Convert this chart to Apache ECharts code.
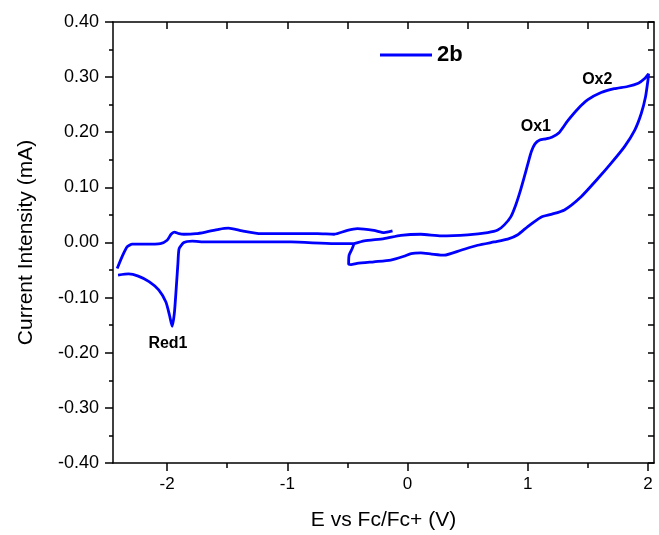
<!DOCTYPE html>
<html>
<head>
<meta charset="utf-8">
<script src="https://cdn.jsdelivr.net/npm/echarts@6/dist/echarts.min.js"></script>
<style>
html,body{margin:0;padding:0;background:#fff;}
#chart{width:659px;height:535px;}
</style>
</head>
<body>
<div id="chart"></div>
<script>
// Segment A: anodic loop, return, cathodic sweep to the left end (E in V, I in mA)
const potentialA = [-0.445, -0.36, -0.195, -0.056, 0.11, 0.28, 0.5, 0.667, 0.75, 0.805, 0.86, 0.90, 0.94, 0.97, 1.0, 1.03, 1.06, 1.10, 1.15, 1.20, 1.26, 1.33, 1.42, 1.50, 1.61, 1.72, 1.83, 1.92, 1.97, 2.005,
  2.0, 1.98, 1.944, 1.89, 1.805, 1.694, 1.583, 1.444, 1.305, 1.194, 1.11, 1.0, 0.917, 0.833, 0.72, 0.583, 0.444, 0.305, 0.20, 0.11, 0.03, -0.03, -0.14, -0.28, -0.42, -0.47, -0.49, -0.486, -0.46,
  -0.445, -0.61, -0.97, -1.39, -1.68, -1.79, -1.86, -1.90, -1.91, -1.925, -1.94, -1.958, -1.98, -2.01, -2.07, -2.15, -2.24, -2.32, -2.408];
const currentA = [-0.002, 0.003, 0.007, 0.013, 0.015, 0.012, 0.014, 0.018, 0.0225, 0.032, 0.047, 0.068, 0.095, 0.118, 0.142, 0.165, 0.179, 0.186, 0.188, 0.191, 0.199, 0.220, 0.243, 0.259, 0.272, 0.279, 0.283, 0.289, 0.297, 0.306,
  0.295, 0.265, 0.234, 0.204, 0.174, 0.144, 0.116, 0.083, 0.059, 0.051, 0.046, 0.029, 0.014, 0.006, 0.001, -0.005, -0.014, -0.023, -0.021, -0.019, -0.020, -0.025, -0.032, -0.035, -0.038, -0.040, -0.039, -0.023, -0.011,
  -0.002, -0.002, 0.001, 0.001, 0.001, 0.0025, 0.0, -0.011, -0.038, -0.086, -0.129, -0.152, -0.132, -0.108, -0.086, -0.071, -0.061, -0.057, -0.059];
// Segment B: return sweep from the left end
const potentialB = [-2.415, -2.375, -2.333, -2.29, -2.18, -2.056, -2.0, -1.967, -1.94, -1.90, -1.86, -1.76, -1.68, -1.57, -1.49, -1.375, -1.22, -0.97, -0.75, -0.61, -0.50, -0.417, -0.28, -0.195, -0.125];
const currentB = [-0.047, -0.026, -0.008, -0.003, -0.003, -0.002, 0.004, 0.015, 0.019, 0.016, 0.015, 0.016, 0.019, 0.024, 0.026, 0.021, 0.016, 0.016, 0.016, 0.015, 0.022, 0.025, 0.022, 0.018, 0.021];

const seriesName = '2b';
const xMajorTicks = [-2, -1, 0, 1, 2];
const xMinorTicks = [-1.5, -0.5, 0.5, 1.5];
const yMajorTicks = [-0.4, -0.3, -0.2, -0.1, 0, 0.1, 0.2, 0.3, 0.4];
const yMinorTicks = [-0.35, -0.25, -0.15, -0.05, 0.05, 0.15, 0.25, 0.35];
const annotationNames = ['Red1', 'Ox1', 'Ox2'];
const annotationE = [-1.993, 1.067, 1.578];
const annotationI = [-0.184, 0.211, 0.295];

const FONT = '"Liberation Sans", Arial, sans-serif';
const BLACK = '#000';
const BLUE = '#0000ff';

const dataA = potentialA.map((e, i) => [e, currentA[i]]);
const dataB = potentialB.map((e, i) => [e, currentB[i]]);

const chart = echarts.init(document.getElementById('chart'), null, {renderer: 'canvas'});
const axisLine = {show: true, onZero: false, lineStyle: {color: BLACK, width: 1.5}};
const noLine = {show: false, onZero: false};
const xCommon = {type: 'value', min: -2.45, max: 2.05, splitLine: {show: false}, gridIndex: 0};
const yCommon = {type: 'value', min: -0.4, max: 0.4, splitLine: {show: false}, gridIndex: 0};

chart.setOption({
  animation: false,
  backgroundColor: '#fff',
  grid: {left: 113, right: 5, top: 22, bottom: 72, containLabel: false, outerBoundsMode: 'none'},
  legend: {
    data: [{name: seriesName, icon: 'rect'}], left: 380, top: 42, padding: 0,
    itemWidth: 52, itemHeight: 3, itemGap: 5,
    itemStyle: {color: BLUE, borderWidth: 0},
    textStyle: {fontFamily: FONT, fontSize: 22, fontWeight: 'bold', color: BLACK, lineHeight: 26}
  },
  xAxis: [
    Object.assign({}, xCommon, {
      position: 'bottom', axisLine: axisLine,
      axisTick: {show: true, inside: false, length: 8, customValues: xMajorTicks, lineStyle: {color: BLACK, width: 1.5}},
      axisLabel: {show: true, customValues: xMajorTicks, margin: 13, fontFamily: FONT, fontSize: 17, color: BLACK,
        formatter: v => String(Math.round(v))},
      name: 'E vs Fc/Fc+ (V)', nameLocation: 'middle', nameGap: 47,
      nameTextStyle: {fontFamily: FONT, fontSize: 21, color: BLACK}
    }),
    Object.assign({}, xCommon, {
      position: 'bottom', axisLine: noLine,
      axisTick: {show: true, inside: false, length: 5, customValues: xMinorTicks, lineStyle: {color: BLACK, width: 1.5}},
      axisLabel: {show: false}
    }),
    Object.assign({}, xCommon, {
      position: 'top', axisLine: axisLine,
      axisTick: {show: true, inside: true, length: 7, customValues: xMajorTicks.concat(xMinorTicks), lineStyle: {color: BLACK, width: 1.5}},
      axisLabel: {show: false}
    })
  ],
  yAxis: [
    Object.assign({}, yCommon, {
      position: 'left', axisLine: axisLine,
      axisTick: {show: true, inside: false, length: 8, customValues: yMajorTicks, lineStyle: {color: BLACK, width: 1.5}},
      axisLabel: {show: true, customValues: yMajorTicks, margin: 14, fontFamily: FONT, fontSize: 18, color: BLACK,
        formatter: v => (Math.abs(v) < 1e-9 ? 0 : v).toFixed(2)},
      name: 'Current Intensity (mA)', nameLocation: 'middle', nameGap: 76,
      nameTextStyle: {fontFamily: FONT, fontSize: 21, color: BLACK}
    }),
    Object.assign({}, yCommon, {
      position: 'left', axisLine: noLine,
      axisTick: {show: true, inside: false, length: 4, customValues: yMinorTicks, lineStyle: {color: BLACK, width: 1.5}},
      axisLabel: {show: false}
    }),
    Object.assign({}, yCommon, {
      position: 'right', axisLine: axisLine,
      axisTick: {show: true, inside: true, length: 6, customValues: yMajorTicks.concat(yMinorTicks), lineStyle: {color: BLACK, width: 1.5}},
      axisLabel: {show: false}
    })
  ],
  series: [
    {
      name: seriesName, type: 'line', xAxisIndex: 0, yAxisIndex: 0, data: dataA,
      showSymbol: false, symbol: 'none', smooth: 0.2, clip: false,
      lineStyle: {color: BLUE, width: 2.8}, itemStyle: {color: BLUE},
      markPoint: {
        symbol: 'circle', symbolSize: 0, silent: true,
        label: {show: true, position: 'inside', fontFamily: FONT, fontSize: 16, fontWeight: 'bold', color: BLACK, formatter: p => p.name},
        data: annotationNames.map((n, i) => ({name: n, coord: [annotationE[i], annotationI[i]]}))
      }
    },
    {
      name: seriesName, type: 'line', xAxisIndex: 0, yAxisIndex: 0, data: dataB,
      showSymbol: false, symbol: 'none', smooth: 0.2, clip: false,
      lineStyle: {color: BLUE, width: 2.8}, itemStyle: {color: BLUE}
    }
  ]
});
</script>
</body>
</html>
